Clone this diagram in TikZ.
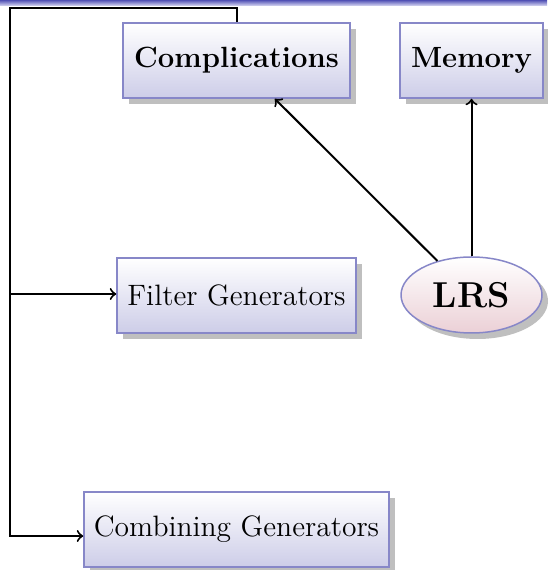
\documentclass[tikz,border=0pt]{standalone}
\usetikzlibrary{shapes.geometric,shadows}
\definecolor{boxborder}{RGB}{135,135,200}
\definecolor{boxbottom}{RGB}{205,205,232}
\definecolor{ellbottom}{RGB}{235,208,214}
\definecolor{headtop}{RGB}{80,80,180}
\definecolor{headbottom}{RGB}{220,220,245}
\tikzset{
  x=0.4pt, y=-0.4pt,
  boxstyle/.style={rectangle, draw=boxborder, line width=0.6pt, inner sep=0pt,
    top color=white, bottom color=boxbottom,
    drop shadow={shadow xshift=2.4pt, shadow yshift=-2.4pt, opacity=.5, fill=black!50},
    font=\fontsize{11.8}{14}\selectfont, minimum height=30pt},
  boldbox/.style={boxstyle, font=\fontsize{11.7}{14}\selectfont\bfseries},
  ellstyle/.style={ellipse, draw=boxborder, line width=0.6pt, inner sep=0pt,
    top color=white, bottom color=ellbottom,
    drop shadow={shadow xshift=2.4pt, shadow yshift=-2.4pt, opacity=.5, fill=black!50},
    font=\fontsize{14.4}{17}\selectfont\bfseries},
  conn/.style={line width=0.8pt}
}
\begin{document}
\begin{tikzpicture}
\useasboundingbox (0,0) rectangle (547,570);
\shade[top color=headtop, bottom color=headbottom] (0,0) rectangle (547,6);
\node[boldbox, minimum width=90.8pt] (comp) at (236.5,60.5) {Complications};
\node[boldbox, minimum width=57.2pt] (mem) at (471.5,60.5) {Memory};
\node[ellstyle, minimum width=56.4pt, minimum height=30.4pt] (lrs) at (471.5,295) {LRS};
\node[boxstyle, minimum width=95.6pt] (filt) at (236.5,295.5) {Filter Generators};
\node[boxstyle, minimum width=122pt] (comb) at (236.5,529.5) {Combining Generators};
\coordinate (tl) at (9.5,8.5);
\coordinate (ml) at (9.5,294);
\coordinate (bl) at (9.5,536);
\draw[conn,->] (comp.north) |- (tl) -- (bl) -- (bl -| comb.west);
\draw[conn,->] (ml) -- (ml -| filt.west);
\draw[conn,->] (lrs) -- (comp);
\draw[conn,->] (lrs) -- (mem);
\end{tikzpicture}
\end{document}
